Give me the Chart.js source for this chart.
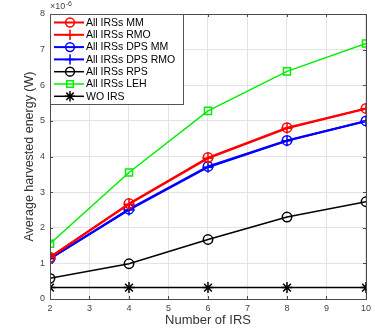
<!DOCTYPE html>
<html lang="en">
<head>
    <meta charset="UTF-8">
    <title>Average harvested energy vs number of IRS</title>
    <script src="https://cdn.jsdelivr.net/npm/chart.js@4.4.1/dist/chart.umd.min.js"></script>
    <style>
        html, body { margin: 0; padding: 0; background: #fff; }
        #wrap { position: relative; width: 375px; height: 332px; }
    </style>
</head>
<body>
<div id="wrap"><canvas id="energyChart"></canvas></div>
<script>
// x values and series (energy in units of 1e-6 W)
var irsCount = [2, 4, 6, 8, 10];
var allMM     = [1.17, 2.68, 3.97, 4.81, 5.35];
var allRMO    = [1.17, 2.66, 3.95, 4.79, 5.34];
var dpsMM     = [1.13, 2.52, 3.72, 4.45, 5.00];
var dpsRMO    = [1.13, 2.50, 3.70, 4.44, 4.99];
var allRPS    = [0.58, 0.99, 1.67, 2.30, 2.73];
var allLEH    = [1.55, 3.55, 5.28, 6.39, 7.17];
var woIRS     = [0.32, 0.32, 0.32, 0.32, 0.32];
var seriesNames = ["All IRSs MM", "All IRSs RMO", "All IRSs DPS MM", "All IRSs DPS RMO", "All IRSs RPS", "All IRSs LEH", "WO IRS"];
var yTicks = [0, 1, 2, 3, 4, 5, 6, 7, 8];
var xTicks = [2, 3, 4, 5, 6, 7, 8, 9, 10];

var axisColor = "#4a4a4a";
var font = "'Liberation Sans', Arial, sans-serif";

function pts(ys) {
    return irsCount.map(function (x, i) { return { x: x, y: ys[i] }; });
}

function ds(label, ys, color, style, radius, lw) {
    return {
        label: label,
        data: pts(ys),
        borderColor: color,
        backgroundColor: "rgba(0,0,0,0)",
        borderWidth: lw,
        pointStyle: style,
        pointRadius: radius,
        pointBorderWidth: 1.5,
        pointBorderColor: color,
        pointBackgroundColor: "rgba(0,0,0,0)",
        tension: 0
    };
}

var datasets = [
    ds(seriesNames[0], allMM, "#ff0000", "circle", 4.7, 2),
    ds(seriesNames[1], allRMO, "#ff0000", "cross", 5.5, 2),
    ds(seriesNames[2], dpsMM, "#0000ff", "circle", 4.7, 2),
    ds(seriesNames[3], dpsRMO, "#0000ff", "cross", 5.5, 2),
    ds(seriesNames[4], allRPS, "#000000", "circle", 4.7, 1.5),
    ds(seriesNames[5], allLEH, "#00ee00", "rect", 5, 1.5),
    ds(seriesNames[6], woIRS, "#000000", "star", 5.5, 1.5)
];

// inward ticks, full box, x10^-6 and legend drawn on canvas
var matlabFrame = {
    id: "matlabFrame",
    afterDraw: function (chart) {
        var ctx = chart.ctx, a = chart.chartArea;
        var xs = chart.scales.x, ys = chart.scales.y;
        ctx.save();
        ctx.strokeStyle = axisColor;
        ctx.lineWidth = 1;
        ctx.beginPath();
        xTicks.forEach(function (t) {
            var px = Math.round(xs.getPixelForValue(t)) + 0.5;
            ctx.moveTo(px, a.bottom); ctx.lineTo(px, a.bottom - 3);
            ctx.moveTo(px, a.top); ctx.lineTo(px, a.top + 3);
        });
        yTicks.forEach(function (t) {
            var py = Math.round(ys.getPixelForValue(t)) + 0.5;
            ctx.moveTo(a.left, py); ctx.lineTo(a.left + 3, py);
            ctx.moveTo(a.right, py); ctx.lineTo(a.right - 3, py);
        });
        ctx.stroke();
        ctx.strokeRect(Math.round(a.left) + 0.5, Math.round(a.top) + 0.5, Math.round(a.right - a.left), Math.round(a.bottom - a.top));

        // exponent label
        ctx.fillStyle = "#444";
        ctx.textBaseline = "middle";
        ctx.textAlign = "left";
        ctx.font = "9px " + font;
        ctx.fillText("\u00d710", a.left, 7);
        var w = ctx.measureText("\u00d710").width;
        ctx.font = "7px " + font;
        ctx.fillText("-6", a.left + w + 0.5, 4);

        // legend
        var lx = a.left, ly = a.top, lw = 133, lh = 90;
        ctx.fillStyle = "#fff";
        ctx.fillRect(lx, ly, lw, lh);
        ctx.strokeStyle = "#555";
        ctx.strokeRect(lx + 0.5, ly + 0.5, lw, lh);
        chart.data.datasets.forEach(function (d, i) {
            var y = ly + 8.5 + i * 12.3;
            ctx.strokeStyle = d.borderColor;
            ctx.lineWidth = d.borderWidth;
            ctx.beginPath();
            ctx.moveTo(lx + 4, y); ctx.lineTo(lx + 34, y);
            ctx.stroke();
            ctx.lineWidth = 1.5;
            ctx.fillStyle = "rgba(0,0,0,0)";
            Chart.helpers.drawPoint(ctx, { pointStyle: d.pointStyle, radius: d.pointRadius - 0.3, rotation: 0, borderWidth: 1.5 }, lx + 20, y);
            ctx.fillStyle = "#000";
            ctx.font = "10.5px " + font;
            ctx.textBaseline = "middle";
            ctx.fillText(d.label, lx + 36, y + 0.5);
        });
        ctx.restore();
    }
};

var chart = new Chart(document.getElementById("energyChart").getContext("2d"), {
    type: "line",
    data: { datasets: datasets },
    options: {
        responsive: true,
        maintainAspectRatio: false,
        animation: false,
        layout: { padding: { top: 14, right: 7, left: 0, bottom: 0 } },
        plugins: { legend: { display: false }, tooltip: { enabled: false } },
        scales: {
            x: {
                type: "linear", min: 2, max: 10,
                afterBuildTicks: function (s) { s.ticks = xTicks.map(function (v) { return { value: v }; }); },
                afterFit: function (s) { s.height = 33; },
                ticks: { color: "#444", font: { size: 9, family: font }, padding: 4, maxRotation: 0 },
                grid: { color: "#e3e3e3", drawTicks: false },
                border: { display: false },
                title: { display: true, text: "Number of IRS", color: "#333", font: { size: 13, family: font }, padding: { top: 0, bottom: 4 } }
            },
            y: {
                type: "linear", min: 0, max: 8,
                afterBuildTicks: function (s) { s.ticks = yTicks.map(function (v) { return { value: v }; }); },
                afterFit: function (s) { s.width = 50; },
                ticks: { color: "#444", font: { size: 9, family: font }, padding: 5 },
                grid: { color: "#e3e3e3", drawTicks: false },
                border: { display: false },
                title: { display: true, text: "Average harvested energy (W)", color: "#333", font: { size: 12.5, family: font }, padding: { top: 22, bottom: 0 } }
            }
        }
    },
    plugins: [matlabFrame]
});
</script>
</body>
</html>
